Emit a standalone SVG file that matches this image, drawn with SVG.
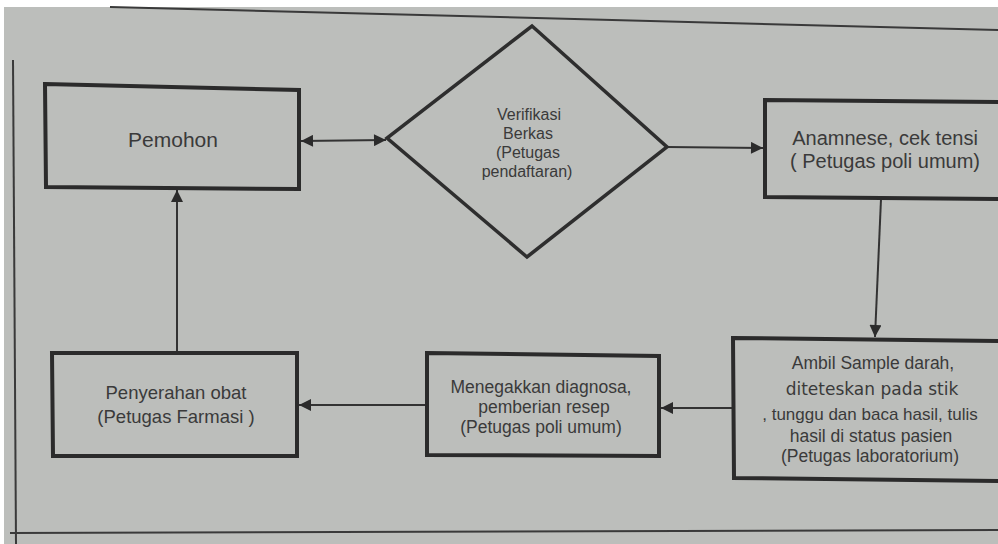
<svg xmlns="http://www.w3.org/2000/svg" width="998" height="544" viewBox="0 0 998 544">
<style>
.box{fill:none;stroke:#2b2b2b;stroke-width:4}
.dia{fill:none;stroke:#2e2e2e;stroke-width:3.5}
.con{fill:none;stroke:#333;stroke-width:2}
.frame{fill:none;stroke:#3a3a3a;stroke-width:2}
text{font-family:"Liberation Sans",Arial,sans-serif;fill:#3a3a3a;text-anchor:middle}
</style>
<defs>
<marker id="ah" viewBox="0 0 10 10" refX="10" refY="5" markerWidth="14" markerHeight="12" markerUnits="userSpaceOnUse" orient="auto-start-reverse">
<path d="M0,0 L10,5 L0,10 Z" fill="#2b2b2b"/>
</marker>
</defs>
<rect x="0" y="0" width="998" height="544" fill="#ffffff"/>
<rect x="4" y="7" width="994" height="537" fill="#bcbebb"/>
<g id="frame">
<path class="frame" d="M110,7 Q500,18 998,30"/>
<path class="frame" d="M13,60 L16,544"/>
<path class="frame" d="M10,533 L998,530"/>
</g>
<g id="connectors">
<line class="con" x1="301" y1="141" x2="386" y2="140" marker-start="url(#ah)" marker-end="url(#ah)"/>
<line class="con" x1="667" y1="147" x2="763" y2="148" marker-end="url(#ah)"/>
<line class="con" x1="881" y1="199" x2="875" y2="337" marker-end="url(#ah)"/>
<line class="con" x1="733" y1="408" x2="661" y2="408" marker-end="url(#ah)"/>
<line class="con" x1="427" y1="405" x2="299" y2="405" marker-end="url(#ah)"/>
<line class="con" x1="177" y1="352" x2="177" y2="190" marker-end="url(#ah)"/>
</g>
<g id="pemohon">
<path class="box" d="M45,84 L299,90 L299,189 L46,187 Z"/>
<text x="173" y="147" font-size="21">Pemohon</text>
</g>
<g id="verifikasi">
<path class="dia" d="M532,26 L667,147 L527,257 L387,138 Z"/>
<text x="529" y="120" font-size="16">Verifikasi</text>
<text x="528" y="139" font-size="16">Berkas</text>
<text x="528" y="158" font-size="16">(Petugas</text>
<text x="527" y="177" font-size="16">pendaftaran)</text>
</g>
<g id="anamnese">
<path class="box" d="M765,100 L1005,102 L1005,199 L765,197 Z"/>
<text x="885" y="145" font-size="20">Anamnese, cek tensi</text>
<text x="885" y="168" font-size="20">( Petugas poli umum)</text>
</g>
<g id="ambil">
<path class="box" d="M733,338 L1005,341 L1005,481 L734,478 Z"/>
<text x="873" y="369" font-size="17.5">Ambil Sample darah,</text>
<text x="872" y="395" font-size="17" style="font-family:'DejaVu Sans',sans-serif">diteteskan pada stik</text>
<text x="870" y="420" font-size="17">, tunggu dan baca hasil, tulis</text>
<text x="871" y="442" font-size="17.5">hasil di status pasien</text>
<text x="870" y="462" font-size="17.5">(Petugas laboratorium)</text>
</g>
<g id="menegakkan">
<path class="box" d="M427,353 L659,356 L659,456 L427,455 Z"/>
<text x="541" y="393" font-size="17.5">Menegakkan diagnosa,</text>
<text x="544" y="413" font-size="17.5">pemberian resep</text>
<text x="541" y="433" font-size="17.5">(Petugas poli umum)</text>
</g>
<g id="penyerahan">
<path class="box" d="M52,353 L297,353 L297,456 L53,456 Z"/>
<text x="176" y="399" font-size="18.5">Penyerahan obat</text>
<text x="176" y="423" font-size="18.5">(Petugas Farmasi )</text>
</g>
</svg>
